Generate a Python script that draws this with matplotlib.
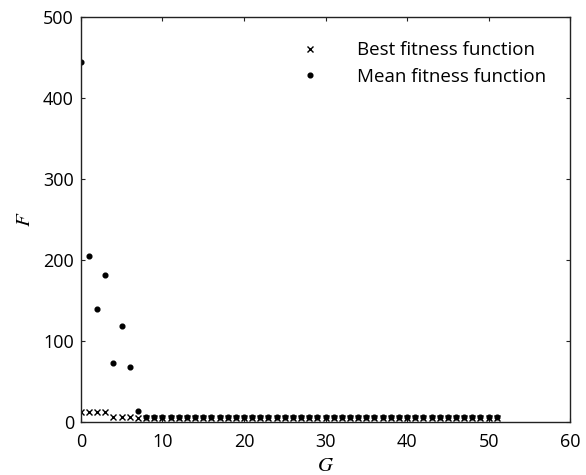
import matplotlib.pyplot as plt
import numpy as np

plt.rcParams['font.family'] = ['Open Sans', 'DejaVu Sans']
plt.rcParams['mathtext.fontset'] = 'stix'

gen = np.arange(0, 52)
best_fit = [12, 12, 12, 12, 6, 6, 6] + [5] * 45
mean_fit = [444, 205, 139, 181, 73, 119, 68, 14] + [6] * 44

fig = plt.figure(figsize=(5.86, 4.75), dpi=100)
ax = fig.add_axes([0.138, 0.1116, 0.835, 0.853])

ax.plot(gen, best_fit, 'x', color='black', markersize=3.8, markeredgewidth=1.0,
        label='Best fitness function')
ax.plot(gen, mean_fit, 'o', color='black', markersize=3.4,
        label='Mean fitness function')

ax.set_xlim(0, 60)
ax.set_ylim(0, 500)
ax.set_xticks(np.arange(0, 61, 10))
ax.set_yticks(np.arange(0, 501, 100))
ax.tick_params(direction='in', top=True, right=True, labelsize=13, length=3,
               width=0.8, color='#222222')
ax.tick_params(axis='x', pad=8)
ax.tick_params(axis='y', pad=5)
for s in ax.spines.values():
    s.set_linewidth(1.0)
    s.set_color('#222222')

ax.set_xlabel('$G$', fontsize=15, labelpad=3)
ax.set_ylabel('$F$', fontsize=15, labelpad=6)

ax.legend(loc='upper right', frameon=False, fontsize=13.5, handletextpad=1.5,
          handlelength=2.0, borderaxespad=1.1, labelspacing=0.45,
          borderpad=0.2)

fig.savefig('out.png', dpi=100)
